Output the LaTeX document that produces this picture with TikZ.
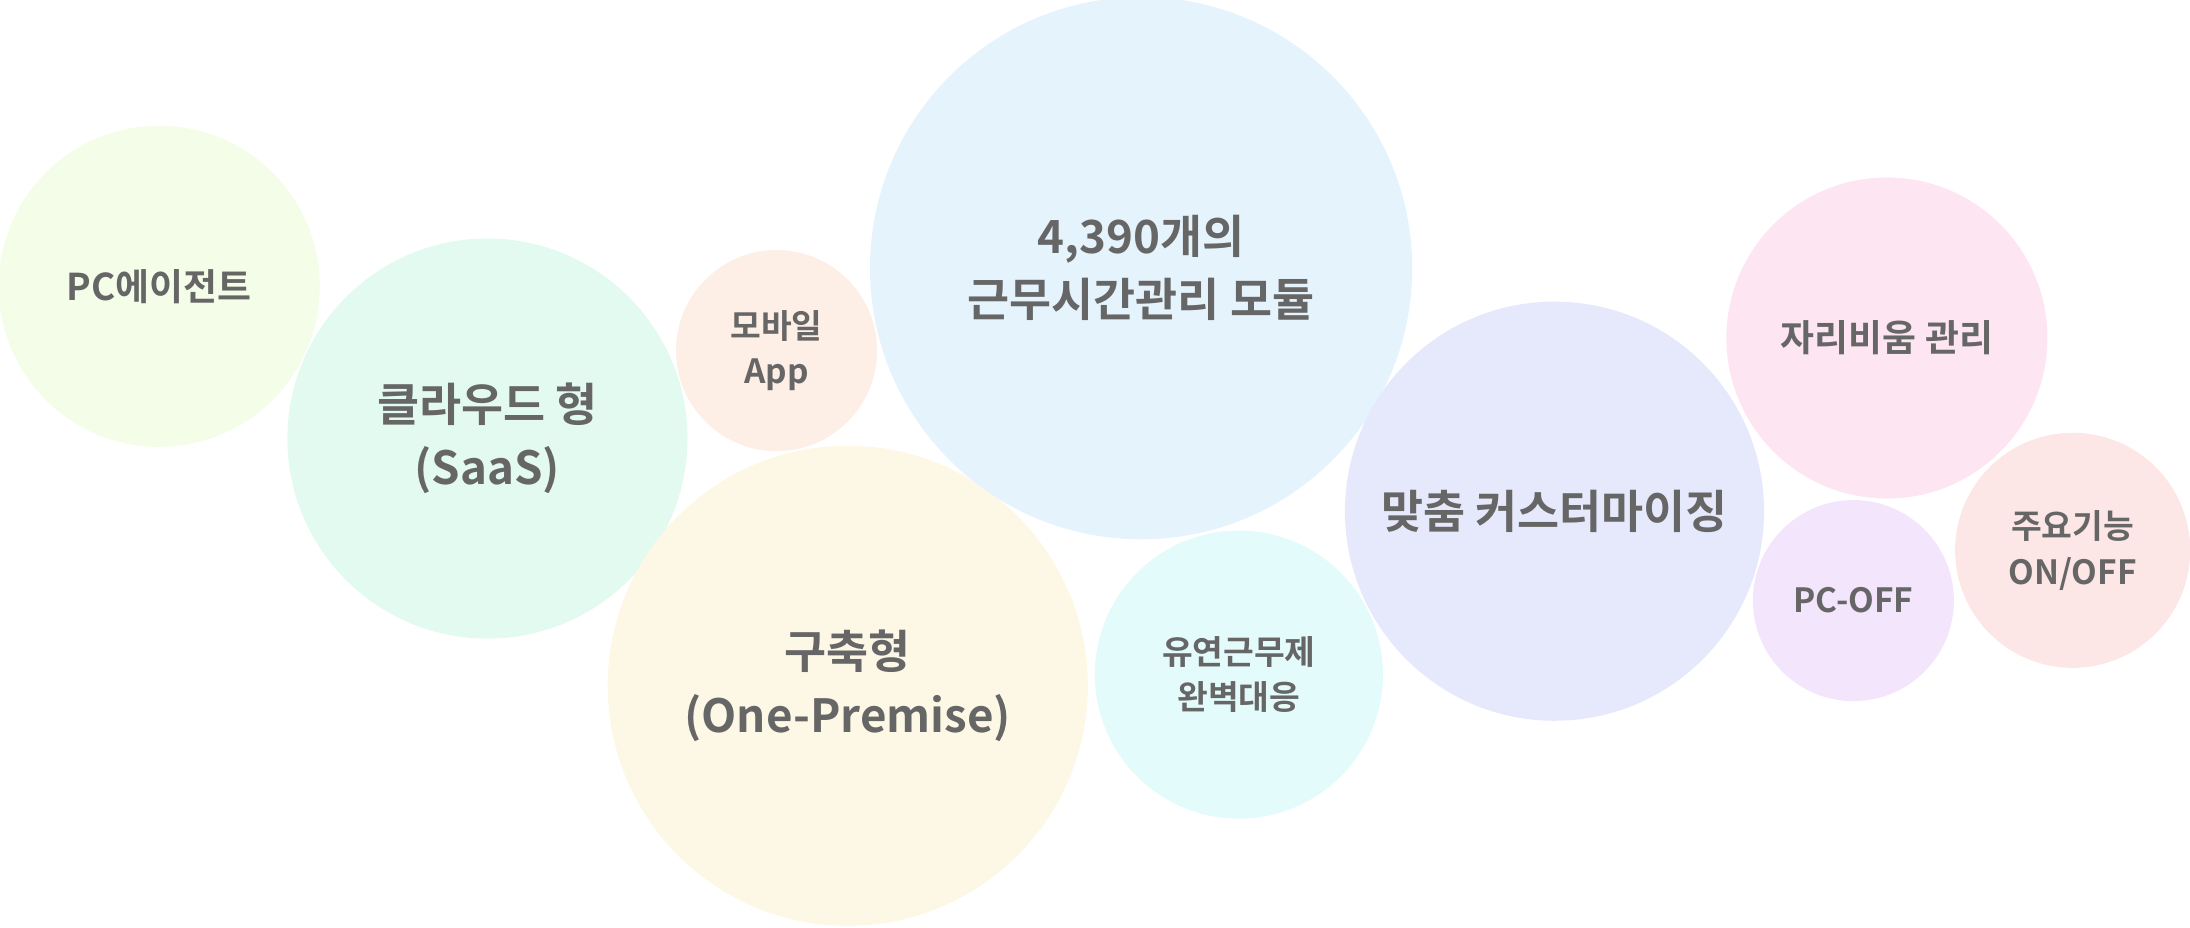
\documentclass[tikz,border=0pt]{standalone}
\usepackage{fontspec}
\setmainfont{Noto Sans CJK KR}[BoldFont={* Bold}]
\definecolor{txt}{HTML}{666666}
\definecolor{cAgent}{HTML}{F3FDE8}
\definecolor{cSaas}{HTML}{E3FAF0}
\definecolor{cApp}{HTML}{FDEEE6}
\definecolor{cOnpre}{HTML}{FDF8E6}
\definecolor{cModule}{HTML}{E5F3FD}
\definecolor{cFlex}{HTML}{E3FBFB}
\definecolor{cCustom}{HTML}{E6E9FC}
\definecolor{cAway}{HTML}{FDE6F2}
\definecolor{cPcoff}{HTML}{F3E6FC}
\definecolor{cOnoff}{HTML}{FDE6E6}
\tikzset{
  bub/.style={circle,inner sep=0pt,align=center,font=\bfseries,text=txt},
  big/.style={font=\fontsize{13}{18}\selectfont\bfseries},
  mid/.style={font=\fontsize{10.5}{14}\selectfont\bfseries},
  sml/.style={font=\fontsize{9.5}{13}\selectfont\bfseries}
}
\begin{document}
\begin{tikzpicture}[x=0.013967cm,y=-0.013967cm]
                \useasboundingbox (0,0) rectangle (1568,664);
                \node[bub,mid,fill=cAgent,minimum size=3.21cm] (agent) at (114,205) {PC에이전트};
                \node[bub,big,fill=cSaas,minimum size=4.0cm] (saas) at (349,314) {클라우드 형\\(SaaS)};
                \node[bub,sml,fill=cApp,minimum size=2.01cm] (app) at (556,251) {모바일\\App};
                \node[bub,big,fill=cOnpre,minimum size=4.8cm] (onpre) at (607,491) {구축형\\(One-Premise)};
                \node[bub,big,fill=cModule,minimum size=5.42cm] (module) at (817,192) {4,390개의\\근무시간관리 모듈};
                \node[bub,sml,fill=cFlex,minimum size=2.88cm] (flex) at (887,483) {유연근무제\\완벽대응};
                \node[bub,big,fill=cCustom,minimum size=4.19cm] (custom) at (1113,366) {맞춤 커스터마이징};
                \node[bub,mid,fill=cAway,minimum size=3.21cm] (away) at (1351,242) {자리비움 관리};
                \node[bub,sml,fill=cPcoff,minimum size=2.01cm] (pcoff) at (1327,430) {PC-OFF};
                \node[bub,sml,fill=cOnoff,minimum size=2.35cm] (onoff) at (1484,394) {주요기능\\ON/OFF};
\end{tikzpicture}
\end{document}
